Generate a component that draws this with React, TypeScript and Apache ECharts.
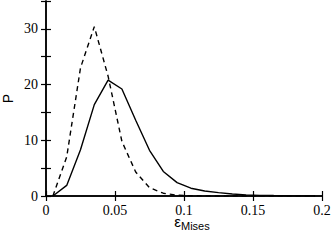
import React, { useEffect, useRef } from "react";
import * as echarts from "echarts";

const strainBins = [0.005, 0.015, 0.025, 0.035, 0.045, 0.055, 0.065, 0.075, 0.085, 0.095, 0.105, 0.115, 0.125, 0.135, 0.145, 0.155, 0.165, 0.175, 0.185, 0.195];
const solidP = [0, 1.9, 8.3, 16.4, 20.8, 19.2, 13.6, 8.2, 4.4, 2.4, 1.4, 0.9, 0.6, 0.35, 0.2, 0.12, 0.08, 0.05, 0.03, 0.02];
const dashedP = [0, 7, 23, 30.4, 21.5, 9.8, 4.3, 1.5, 0.5, 0.15, 0.05, 0.02, 0, 0, 0, 0, 0, 0, 0, 0];
const xTicks = [0, 0.05, 0.1, 0.15, 0.2];
const yLabels = [0, 10, 20, 30];

export default function App() {
  const ref = useRef<HTMLDivElement>(null);
  useEffect(() => {
    if (!ref.current) return;
    const chart = echarts.init(ref.current, null, { renderer: "svg" });
    const serif = "Liberation Serif";
    const sans = "Liberation Sans";
    const axisLine = { show: true, lineStyle: { color: "#000", width: 1.5 } };
    const tick = (len: number) => ({ show: true, inside: true, length: len, lineStyle: { color: "#000", width: 1.2 } });
    chart.setOption({
      animation: false,
      backgroundColor: "#fff",
      grid: { left: 46, right: 10, top: 1, bottom: 46, containLabel: false, outerBoundsMode: "none" },
      xAxis: [
        {
          type: "value",
          min: 0,
          max: 0.2,
          interval: 0.05,
          position: "bottom",
          axisLine,
          axisTick: tick(5),
          splitLine: { show: false },
          axisLabel: {
            color: "#000",
            fontFamily: serif,
            fontSize: 14,
            margin: 7,
            formatter: (v: number) => {
              const m = xTicks.find((t) => Math.abs(t - v) < 1e-9);
              return m === undefined ? "" : String(m);
            },
          },
          name: "{e|ε}{s|Mises}",
          nameLocation: "middle",
          nameGap: 17,
          nameMoveOverlap: false,
          nameTextStyle: {
            verticalAlign: "top",
            padding: [0, 0, 0, 16],
            rich: {
              e: { fontFamily: sans, fontSize: 15, color: "#000", lineHeight: 16 },
              s: { fontFamily: sans, fontSize: 11, color: "#000", lineHeight: 16, padding: [10, 0, 0, 0] },
            },
          },
        },
        {
          type: "value",
          min: 0,
          max: 0.2,
          interval: 0.05,
          position: "top",
          axisLine,
          axisTick: tick(5),
          axisLabel: { show: false },
          splitLine: { show: false },
        },
      ],
      yAxis: [
        {
          type: "value",
          min: 0,
          max: 35,
          interval: 5,
          position: "left",
          axisLine,
          axisTick: tick(5),
          splitLine: { show: false },
          axisLabel: {
            color: "#000",
            fontFamily: serif,
            fontSize: 14,
            margin: 8,
            formatter: (v: number) => (yLabels.includes(v) ? String(v) : ""),
          },
          name: "P",
          nameLocation: "middle",
          nameGap: 31,
          nameMoveOverlap: false,
          nameRotate: 90,
          nameTextStyle: { fontFamily: sans, fontSize: 14, color: "#000" },
        },
        {
          type: "value",
          min: 0,
          max: 35,
          interval: 5,
          position: "right",
          axisLine,
          axisTick: tick(5),
          axisLabel: { show: false },
          splitLine: { show: false },
        },
      ],
      series: [
        {
          type: "line",
          data: strainBins.map((x, i) => [x, solidP[i]]),
          showSymbol: false,
          lineStyle: { color: "#000", width: 1.4, type: "solid" },
          xAxisIndex: 0,
          yAxisIndex: 0,
        },
        {
          type: "line",
          data: strainBins.map((x, i) => [x, dashedP[i]]),
          showSymbol: false,
          lineStyle: { color: "#000", width: 1.4, type: [5, 4] },
          xAxisIndex: 0,
          yAxisIndex: 0,
        },
      ],
    });
    return () => chart.dispose();
  }, []);
  return <div ref={ref} style={{ width: 332, height: 242, position: "absolute", left: 0, top: 0 }} />;
}
